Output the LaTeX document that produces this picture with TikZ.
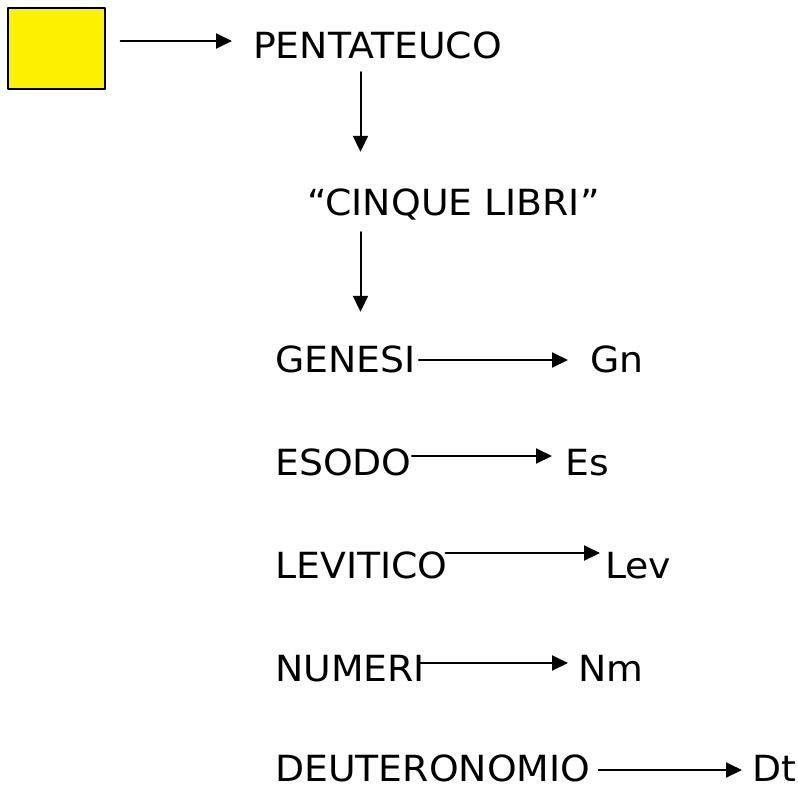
\documentclass[tikz,border=0pt]{standalone}
\usepackage{fontspec}
\setmainfont{DejaVu Sans}[FakeStretch=1.05]
\usetikzlibrary{arrows.meta}
\tikzset{
  lbl/.style={font=\fontsize{36}{40}\selectfont, inner sep=0pt, text height=26pt, text depth=0pt, anchor=base west},
  arr/.style={->, line width=2pt}
}
\begin{document}
\begin{tikzpicture}[line cap=round,line join=round,>={Triangle[length=16pt,width=15pt]},x=1pt,y=-1pt]
    \useasboundingbox (0,0) rectangle (798,790);
    \node[draw, fill=yellow, line width=1.2pt, inner sep=0pt, minimum width=97pt, minimum height=81pt] (box) at (56.5,48.5) {};
    \node[lbl] (pent) at (253,58) {PENTATEUCO};
    \node[lbl] (cinque) at (307,215) {“CINQUE LIBRI”};
    \node[lbl] (gen) at (275,372) {GENESI};
    \node[lbl] (eso) at (275,475) {ESODO};
    \node[lbl] (lev) at (275,578) {LEVITICO};
    \node[lbl] (num) at (275,681) {NUMERI};
    \node[lbl] (deu) at (275,781) {DEUTERONOMIO};
    \node[lbl] (gn) at (590,372) {Gn};
    \node[lbl] (es) at (565,475) {Es};
    \node[lbl] (lv) at (605,578) {Lev};
    \node[lbl] (nm) at (578,681) {Nm};
    \node[lbl] (dt) at (752,781) {Dt};
    \coordinate (start) at ([xshift=15pt,yshift=7.5pt]box.east);
    \coordinate (axis) at (360.5,0);
    \draw[arr, shorten >=21pt] (start) -- (start -| pent.west);
    \draw[arr, shorten <=14pt, shorten >=37pt] (pent.south -| axis) -- (cinque.north -| axis);
    \draw[arr, shorten <=17pt, shorten >=34pt] (cinque.south -| axis) -- (gen.north -| axis);
    \draw[arr, shorten <=3pt, shorten >=22pt] ([yshift=-1pt]gen.east) -- ([yshift=-1pt]gn.west);
    \draw[arr, shorten >=13pt] ([yshift=6pt]eso.east) -- ([yshift=6pt]es.west);
    \draw[arr, shorten <=-2pt, shorten >=5pt] ([yshift=12pt]lev.east) -- ([yshift=12pt]lv.west);
    \draw[arr, shorten <=-7pt, shorten >=10pt] ([yshift=5pt]num.east) -- ([yshift=5pt]nm.west);
    \draw[arr, shorten <=8pt, shorten >=10pt] ([yshift=-2pt]deu.east) -- ([yshift=-2pt]dt.west);
\end{tikzpicture}
\end{document}
